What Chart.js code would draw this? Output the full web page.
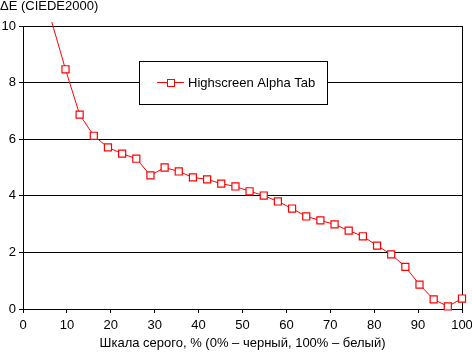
<!DOCTYPE html>
<html>
<head>
<meta charset="utf-8">
<script src="https://cdn.jsdelivr.net/npm/chart.js@4.4.1/dist/chart.umd.min.js"></script>
<style>
    html, body { margin: 0; padding: 0; background: #fff; }
    #wrap { width: 472px; height: 352px; position: relative; }
</style>
</head>
<body>
<div id="wrap"><canvas id="chart" width="472" height="352"></canvas></div>
<script>
// grey level, % (32 steps of 100/31)
const greyLevels = [
    6.45, 9.68, 12.90, 16.13, 19.35, 22.58, 25.81, 29.03, 32.26, 35.48,
    38.71, 41.94, 45.16, 48.39, 51.61, 54.84, 58.06, 61.29, 64.52, 67.74,
    70.97, 74.19, 77.42, 80.65, 83.87, 87.10, 90.32, 93.55, 96.77, 100
];
const deltaE = [
    10.2, 8.47, 6.87, 6.12, 5.71, 5.49, 5.31, 4.72, 5.00, 4.86,
    4.65, 4.58, 4.43, 4.33, 4.16, 4.01, 3.80, 3.55, 3.27, 3.13,
    2.99, 2.77, 2.57, 2.24, 1.93, 1.49, 0.86, 0.34, 0.09, 0.37
];
const xTicks = [0, 10, 20, 30, 40, 50, 60, 70, 80, 90, 100];
const yTicks = [0, 2, 4, 6, 8, 10];
const seriesName = "Highscreen Alpha Tab";

const FONT = "Arial, 'Liberation Sans', sans-serif";

// legend box drawn inside the plot area, like the original
const legendBox = {
    id: "legendBox",
    afterDatasetsDraw(chart) {
        const ctx = chart.ctx;
        ctx.save();
        ctx.fillStyle = "#fff";
        ctx.strokeStyle = "#000";
        ctx.lineWidth = 1;
        ctx.fillRect(139.5, 61.5, 188, 43);
        ctx.strokeRect(139.5, 61.5, 188, 43);
        ctx.strokeStyle = "#ff0000";
        ctx.beginPath();
        ctx.moveTo(157, 82.5);
        ctx.lineTo(184, 82.5);
        ctx.stroke();
        ctx.fillStyle = "#fff";
        ctx.fillRect(167.5, 79.5, 7, 7);
        ctx.strokeRect(167.5, 79.5, 7, 7);
        ctx.fillStyle = "#000";
        ctx.font = "13px " + FONT;
        ctx.textBaseline = "middle";
        ctx.fillText(seriesName, 188, 83);
        ctx.restore();
    }
};

new Chart(document.getElementById("chart"), {
    type: "line",
    data: {
        datasets: [
            {
                label: seriesName,
                data: greyLevels.map((x, i) => ({ x: x, y: deltaE[i] })),
                borderColor: "#ff0000",
                borderWidth: 1,
                backgroundColor: "#ffffff",
                pointStyle: "rect",
                pointRadius: deltaE.map((v) => (v > 10 ? 0 : 5)),
                pointBorderColor: "#ff0000",
                pointBorderWidth: 1.2,
                tension: 0,
                clip: { left: 0, right: 5, top: 4, bottom: 5 },
            },
        ],
    },
    options: {
        responsive: false,
        animation: false,
        layout: { padding: 0 },
        plugins: {
            legend: { display: false },
            tooltip: { enabled: false },
            title: {
                display: true,
                text: "ΔE (CIEDE2000)",
                align: "start",
                color: "#000",
                font: { family: FONT, size: 13, weight: "normal", lineHeight: 1 },
                padding: { top: 0, bottom: 13 },
            },
        },
        scales: {
            x: {
                type: "linear",
                min: 0,
                max: 100,
                afterBuildTicks: (s) => { s.ticks = xTicks.map((v) => ({ value: v })); },
                afterFit: (s) => { s.height = 43; s.paddingRight = 10; s.paddingLeft = 0; },
                ticks: { color: "#000", font: { family: FONT, size: 13 }, padding: 5, maxRotation: 0 },
                grid: {
                    color: (c) => (c.tick && c.tick.value === 100 ? "#000" : "rgba(0,0,0,0)"),
                    tickColor: "#000",
                    tickLength: 4,
                    lineWidth: 1,
                },
                border: { color: "#000", width: 1 },
                title: {
                    display: true,
                    text: "Шкала серого, % (0% – черный, 100% – белый)",
                    color: "#000",
                    font: { family: FONT, size: 13 },
                    padding: { top: 1, bottom: 1 },
                },
            },
            y: {
                min: 0,
                max: 10,
                afterBuildTicks: (s) => { s.ticks = yTicks.map((v) => ({ value: v })); },
                afterFit: (s) => { s.width = 23; },
                ticks: { color: "#000", font: { family: FONT, size: 13 }, padding: 3 },
                grid: { color: "#000", tickColor: "#000", tickLength: 4, lineWidth: 1 },
                border: { color: "#000", width: 1 },
            },
        },
    },
    plugins: [legendBox],
});
</script>
</body>
</html>
